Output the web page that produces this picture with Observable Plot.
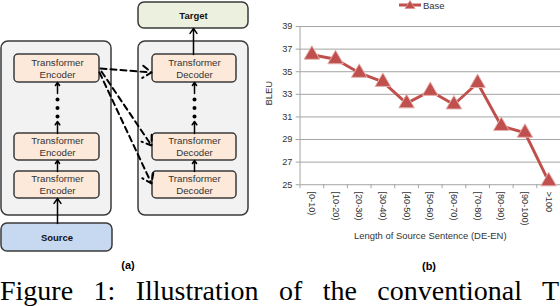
<!DOCTYPE html>
<html><head><meta charset="utf-8">
<script src="https://cdn.jsdelivr.net/npm/d3@7"></script>
<script src="https://cdn.jsdelivr.net/npm/@observablehq/plot@0.6"></script>
<style>
html,body{margin:0;padding:0;background:#fff;}
#fig{position:relative;width:560px;height:306px;overflow:hidden;font-family:"Liberation Sans",Arial,sans-serif;}
#diag{position:absolute;left:0;top:0;}
#chart{position:absolute;left:260px;top:0;}
.sub{position:absolute;font-weight:bold;font-size:11px;color:#000;transform:translate(-50%,-50%);}
#legend{position:absolute;left:398px;top:-1px;font-size:9.5px;color:#333;display:flex;align-items:center;gap:1px;}
#caption{position:absolute;left:0;top:277px;width:559px;white-space:nowrap;text-align:justify;text-align-last:justify;font-family:"Liberation Serif","Times New Roman",serif;font-size:28px;color:#000;line-height:1;}
</style></head><body>
<div id="fig">
  <div id="diag"></div>
  <div id="chart"></div>
  <div id="legend"><svg width="24" height="12"><line x1="1" y1="6" x2="23" y2="6" stroke="#C0504D" stroke-width="3"/><path d="M12,1.5 L17,9.5 L7,9.5 Z" fill="#C0504D" stroke="#D99694" stroke-width="0.8"/></svg><span id="legendText"></span></div>
  <div class="sub" style="left:128px;top:265px">(a)</div>
  <div class="sub" style="left:429px;top:266px">(b)</div>
  <div id="caption">Figure 1: Illustration of the conventional T</div>
</div>
<script>
// ---- chart (b) data ----
const categories = ["[0-10)", "[10-20)", "[20-30)", "[30-40)", "[40-50)", "[50-60)", "[60-70)", "[70-80)", "[80-90)", "[90-100)", ">100"];
const bleu = [36.5, 36.1, 34.9, 34.1, 32.2, 33.3, 32.1, 34.0, 30.2, 29.6, 25.3];
const yTicks = [25, 27, 29, 31, 33, 35, 37, 39];
const seriesName = "Base";
const xTitle = "Length of Source Sentence (DE-EN)";
const yTitle = "BLEU";

// ---- diagram (a) labels ----
const encoderLines = ["Transformer", "Encoder"];
const decoderLines = ["Transformer", "Decoder"];
const sourceLabel = "Source";
const targetLabel = "Target";

document.getElementById("legendText").textContent = seriesName;

const red = "#C0504D";
const grid = "#A0A0A0";
const txt = "#333";
const pts = bleu.map((v, i) => ({i: i + 0.5, v, c: categories[i]}));

const chart = Plot.plot({
  width: 311, height: 260,
  marginLeft: 41, marginRight: 0, marginTop: 27, marginBottom: 69,
  style: {fontFamily: "Liberation Sans, Arial, sans-serif", fontSize: "9.5px", color: txt, overflow: "visible"},
  x: {type: "linear", domain: [0, categories.length], axis: null},
  y: {domain: [25, 39], axis: null},
  marks: [
    Plot.gridY(yTicks, {stroke: grid, strokeOpacity: 1, strokeWidth: 1}),
    Plot.ruleX([0], {stroke: grid, strokeWidth: 1}),
    Plot.axisY({ticks: yTicks, tickSize: 4, tickPadding: 4, stroke: grid, fill: txt, label: null}),
    Plot.axisX({ticks: d3.range(categories.length + 1), tickSize: 4, tickFormat: () => "", stroke: grid, label: null}),
    Plot.text(pts, {x: "i", y: () => 25, text: "c", rotate: 90, textAnchor: "start", dy: 7, fill: txt}),
    Plot.text([xTitle], {frameAnchor: "bottom", text: d => d, dy: 56, fontSize: 9.8, fill: txt}),
    Plot.text([yTitle], {frameAnchor: "left", text: d => d, rotate: -90, dx: -32, fontSize: 9.8, fill: txt}),
    Plot.line(pts, {x: "i", y: "v", stroke: red, strokeWidth: 3}),
    Plot.dot(pts, {x: "i", y: "v", symbol: "triangle", r: 6, fill: red, stroke: "#E6B0AE", strokeWidth: 1})
  ]
});
document.getElementById("chart").append(chart);

// ---- diagram (a) layout ----
const colL = {x1: 1, x2: 111, cx: 57, b1: 14, b2: 99};
const colR = {x1: 138, x2: 248, cx: 194, b1: 152, b2: 236};
const rows = [{y1: 54, y2: 82}, {y1: 133, y2: 160}, {y1: 171, y2: 198}];
const containers = [{x1: colL.x1, x2: colL.x2, y1: 41, y2: 215}, {x1: colR.x1, x2: colR.x2, y1: 41, y2: 215}];
const layers = [];
rows.forEach(r => {
  layers.push({x1: colL.b1, x2: colL.b2, y1: r.y1, y2: r.y2, cx: colL.cx, lines: encoderLines});
  layers.push({x1: colR.b1, x2: colR.b2, y1: r.y1, y2: r.y2, cx: colR.cx, lines: decoderLines});
});
const ioBoxes = [
  {x1: 1, x2: 112, y1: 223, y2: 251, fill: "#C6D9F1", label: sourceLabel},
  {x1: 138, x2: 248, y1: 2, y2: 28, fill: "#EBF1DE", label: targetLabel}
];
const layerText = layers.flatMap(b => b.lines.map((t, k) => ({x: b.cx, y: (b.y1 + b.y2) / 2 + (k - 0.5) * 12, t})));
const solid = [];
[colL, colR].forEach(c => {
  solid.push({x1: c.cx, y1: 171, x2: c.cx, y2: 160});
  solid.push({x1: c.cx, y1: 133, x2: c.cx, y2: 121});
  solid.push({x1: c.cx, y1: 93, x2: c.cx, y2: 82});
});
solid.push({x1: colL.cx, y1: 223, x2: colL.cx, y2: 198});
solid.push({x1: 193, y1: 54, x2: 193, y2: 28});
const dashed = [
  {x1: 100, y1: 68, x2: 151, y2: 72},
  {x1: 101, y1: 71, x2: 151, y2: 145},
  {x1: 99, y1: 72, x2: 151, y2: 183}
];
const ellipsis = [];
[colL, colR].forEach(c => [99, 107.5, 116].forEach(y => ellipsis.push({x: c.cx, y})));

const diag = Plot.plot({
  width: 250, height: 258, margin: 0,
  style: {fontFamily: "Liberation Sans, Arial, sans-serif", overflow: "visible"},
  x: {domain: [0, 250], range: [0, 250], axis: null},
  y: {domain: [0, 258], range: [0, 258], axis: null},
  marks: [
    Plot.rect(containers, {x1: "x1", x2: "x2", y1: "y1", y2: "y2", fill: "#F2F2F2", stroke: "#3A3A3A", strokeWidth: 1.5, rx: 7}),
    Plot.rect(ioBoxes, {x1: "x1", x2: "x2", y1: "y1", y2: "y2", fill: "fill", stroke: "#3A3A3A", strokeWidth: 1.5, rx: 6}),
    Plot.rect(layers, {x1: "x1", x2: "x2", y1: "y1", y2: "y2", fill: "#FDE9D9", stroke: "#3A3A3A", strokeWidth: 1.5, rx: 4}),
    Plot.text(layerText, {x: "x", y: "y", text: "t", fontSize: 9.7, fill: "#333"}),
    Plot.text(ioBoxes, {x: d => (d.x1 + d.x2) / 2, y: d => (d.y1 + d.y2) / 2, text: "label", fontSize: 9.5, fontWeight: "bold", fill: "#111"}),
    Plot.arrow(solid, {x1: "x1", y1: "y1", x2: "x2", y2: "y2", stroke: "#000", strokeWidth: 1.5, headLength: 6, headAngle: 70}),
    Plot.arrow(dashed, {x1: "x1", y1: "y1", x2: "x2", y2: "y2", stroke: "#000", strokeWidth: 2, strokeDasharray: "6,4", headLength: 8, headAngle: 70}),
    Plot.dot(ellipsis, {x: "x", y: "y", r: 2, fill: "#000"})
  ]
});
document.getElementById("diag").append(diag);
</script>
</body></html>
